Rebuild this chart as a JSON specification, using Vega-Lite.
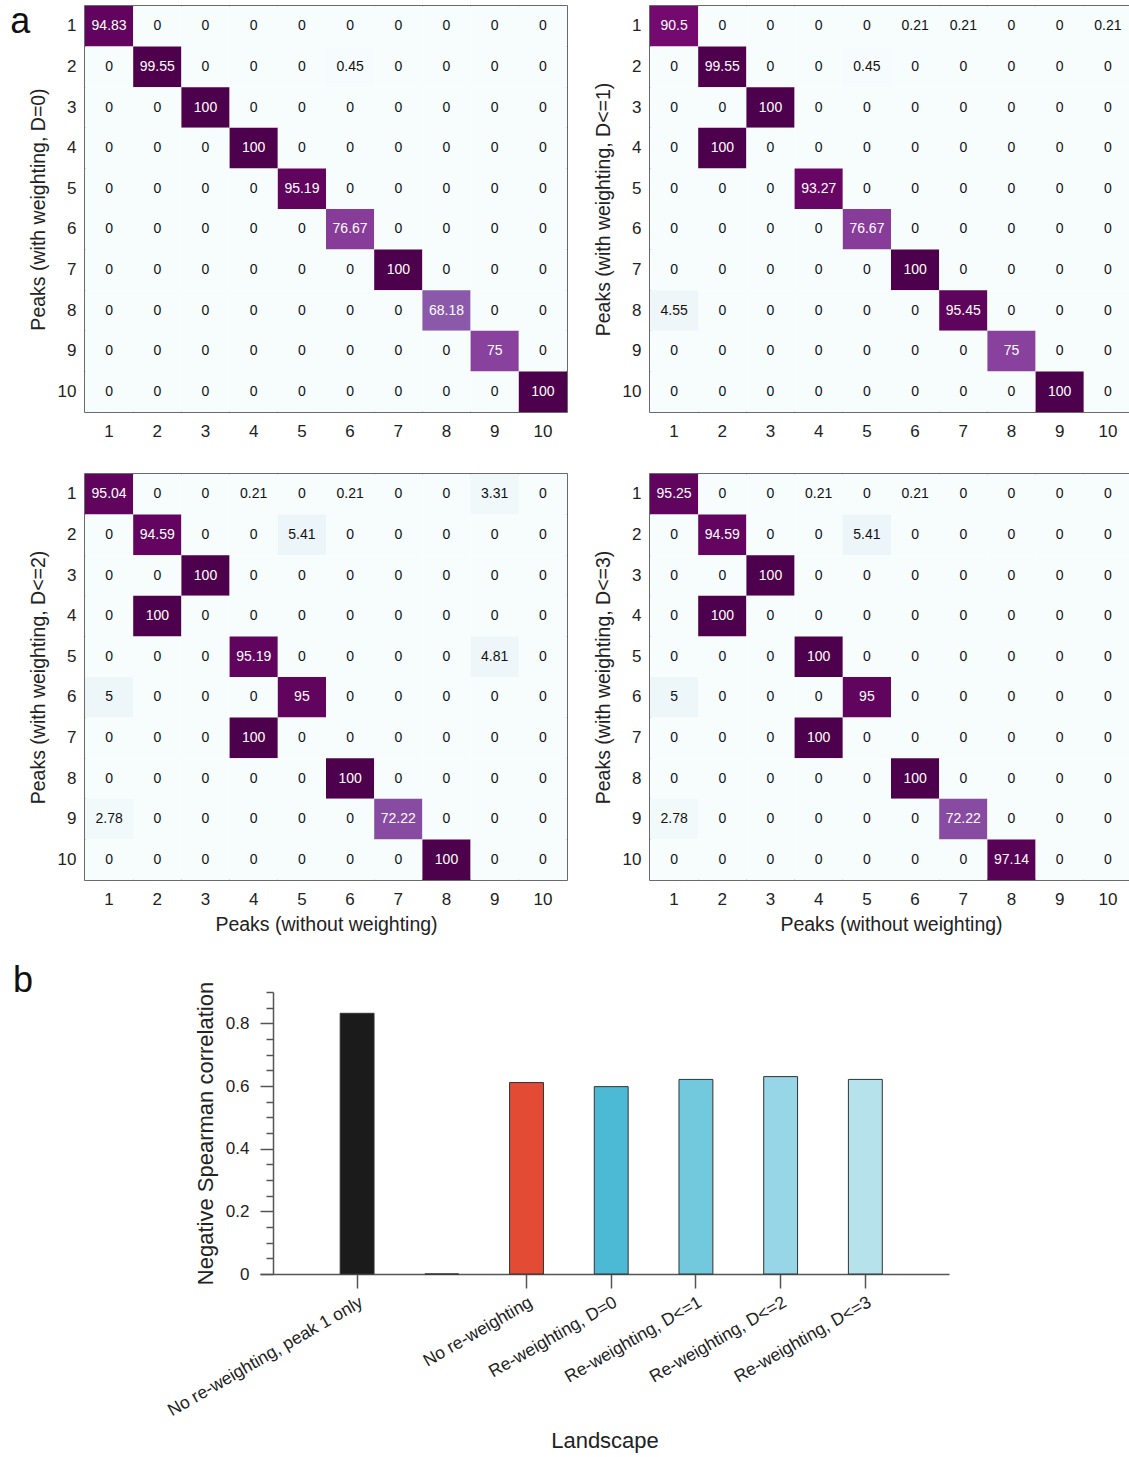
{
  "$schema": "https://vega.github.io/schema/vega-lite/v6.json",
  "padding": {"left": 10, "top": 4, "right": 0, "bottom": 5},
  "background": "white",
  "config": {
    "font": "Liberation Sans",
    "view": {"stroke": "#3a3a3a", "strokeWidth": 1.5},
    "axis": {"labelColor": "#222", "titleColor": "#222", "titleFontWeight": "normal", "labelFontSize": 17, "titleFontSize": 19.5, "grid": false}
  },
  "resolve": {"scale": {"color": "independent"}},
  "datasets": {
    "d0": [
      {"r":1,"c":1,"v":94.83},{"r":1,"c":2,"v":0},{"r":1,"c":3,"v":0},{"r":1,"c":4,"v":0},{"r":1,"c":5,"v":0},{"r":1,"c":6,"v":0},{"r":1,"c":7,"v":0},{"r":1,"c":8,"v":0},{"r":1,"c":9,"v":0},{"r":1,"c":10,"v":0},
      {"r":2,"c":1,"v":0},{"r":2,"c":2,"v":99.55},{"r":2,"c":3,"v":0},{"r":2,"c":4,"v":0},{"r":2,"c":5,"v":0},{"r":2,"c":6,"v":0.45},{"r":2,"c":7,"v":0},{"r":2,"c":8,"v":0},{"r":2,"c":9,"v":0},{"r":2,"c":10,"v":0},
      {"r":3,"c":1,"v":0},{"r":3,"c":2,"v":0},{"r":3,"c":3,"v":100},{"r":3,"c":4,"v":0},{"r":3,"c":5,"v":0},{"r":3,"c":6,"v":0},{"r":3,"c":7,"v":0},{"r":3,"c":8,"v":0},{"r":3,"c":9,"v":0},{"r":3,"c":10,"v":0},
      {"r":4,"c":1,"v":0},{"r":4,"c":2,"v":0},{"r":4,"c":3,"v":0},{"r":4,"c":4,"v":100},{"r":4,"c":5,"v":0},{"r":4,"c":6,"v":0},{"r":4,"c":7,"v":0},{"r":4,"c":8,"v":0},{"r":4,"c":9,"v":0},{"r":4,"c":10,"v":0},
      {"r":5,"c":1,"v":0},{"r":5,"c":2,"v":0},{"r":5,"c":3,"v":0},{"r":5,"c":4,"v":0},{"r":5,"c":5,"v":95.19},{"r":5,"c":6,"v":0},{"r":5,"c":7,"v":0},{"r":5,"c":8,"v":0},{"r":5,"c":9,"v":0},{"r":5,"c":10,"v":0},
      {"r":6,"c":1,"v":0},{"r":6,"c":2,"v":0},{"r":6,"c":3,"v":0},{"r":6,"c":4,"v":0},{"r":6,"c":5,"v":0},{"r":6,"c":6,"v":76.67},{"r":6,"c":7,"v":0},{"r":6,"c":8,"v":0},{"r":6,"c":9,"v":0},{"r":6,"c":10,"v":0},
      {"r":7,"c":1,"v":0},{"r":7,"c":2,"v":0},{"r":7,"c":3,"v":0},{"r":7,"c":4,"v":0},{"r":7,"c":5,"v":0},{"r":7,"c":6,"v":0},{"r":7,"c":7,"v":100},{"r":7,"c":8,"v":0},{"r":7,"c":9,"v":0},{"r":7,"c":10,"v":0},
      {"r":8,"c":1,"v":0},{"r":8,"c":2,"v":0},{"r":8,"c":3,"v":0},{"r":8,"c":4,"v":0},{"r":8,"c":5,"v":0},{"r":8,"c":6,"v":0},{"r":8,"c":7,"v":0},{"r":8,"c":8,"v":68.18},{"r":8,"c":9,"v":0},{"r":8,"c":10,"v":0},
      {"r":9,"c":1,"v":0},{"r":9,"c":2,"v":0},{"r":9,"c":3,"v":0},{"r":9,"c":4,"v":0},{"r":9,"c":5,"v":0},{"r":9,"c":6,"v":0},{"r":9,"c":7,"v":0},{"r":9,"c":8,"v":0},{"r":9,"c":9,"v":75},{"r":9,"c":10,"v":0},
      {"r":10,"c":1,"v":0},{"r":10,"c":2,"v":0},{"r":10,"c":3,"v":0},{"r":10,"c":4,"v":0},{"r":10,"c":5,"v":0},{"r":10,"c":6,"v":0},{"r":10,"c":7,"v":0},{"r":10,"c":8,"v":0},{"r":10,"c":9,"v":0},{"r":10,"c":10,"v":100}
    ],
    "d1": [
      {"r":1,"c":1,"v":90.5},{"r":1,"c":2,"v":0},{"r":1,"c":3,"v":0},{"r":1,"c":4,"v":0},{"r":1,"c":5,"v":0},{"r":1,"c":6,"v":0.21},{"r":1,"c":7,"v":0.21},{"r":1,"c":8,"v":0},{"r":1,"c":9,"v":0},{"r":1,"c":10,"v":0.21},
      {"r":2,"c":1,"v":0},{"r":2,"c":2,"v":99.55},{"r":2,"c":3,"v":0},{"r":2,"c":4,"v":0},{"r":2,"c":5,"v":0.45},{"r":2,"c":6,"v":0},{"r":2,"c":7,"v":0},{"r":2,"c":8,"v":0},{"r":2,"c":9,"v":0},{"r":2,"c":10,"v":0},
      {"r":3,"c":1,"v":0},{"r":3,"c":2,"v":0},{"r":3,"c":3,"v":100},{"r":3,"c":4,"v":0},{"r":3,"c":5,"v":0},{"r":3,"c":6,"v":0},{"r":3,"c":7,"v":0},{"r":3,"c":8,"v":0},{"r":3,"c":9,"v":0},{"r":3,"c":10,"v":0},
      {"r":4,"c":1,"v":0},{"r":4,"c":2,"v":100},{"r":4,"c":3,"v":0},{"r":4,"c":4,"v":0},{"r":4,"c":5,"v":0},{"r":4,"c":6,"v":0},{"r":4,"c":7,"v":0},{"r":4,"c":8,"v":0},{"r":4,"c":9,"v":0},{"r":4,"c":10,"v":0},
      {"r":5,"c":1,"v":0},{"r":5,"c":2,"v":0},{"r":5,"c":3,"v":0},{"r":5,"c":4,"v":93.27},{"r":5,"c":5,"v":0},{"r":5,"c":6,"v":0},{"r":5,"c":7,"v":0},{"r":5,"c":8,"v":0},{"r":5,"c":9,"v":0},{"r":5,"c":10,"v":0},
      {"r":6,"c":1,"v":0},{"r":6,"c":2,"v":0},{"r":6,"c":3,"v":0},{"r":6,"c":4,"v":0},{"r":6,"c":5,"v":76.67},{"r":6,"c":6,"v":0},{"r":6,"c":7,"v":0},{"r":6,"c":8,"v":0},{"r":6,"c":9,"v":0},{"r":6,"c":10,"v":0},
      {"r":7,"c":1,"v":0},{"r":7,"c":2,"v":0},{"r":7,"c":3,"v":0},{"r":7,"c":4,"v":0},{"r":7,"c":5,"v":0},{"r":7,"c":6,"v":100},{"r":7,"c":7,"v":0},{"r":7,"c":8,"v":0},{"r":7,"c":9,"v":0},{"r":7,"c":10,"v":0},
      {"r":8,"c":1,"v":4.55},{"r":8,"c":2,"v":0},{"r":8,"c":3,"v":0},{"r":8,"c":4,"v":0},{"r":8,"c":5,"v":0},{"r":8,"c":6,"v":0},{"r":8,"c":7,"v":95.45},{"r":8,"c":8,"v":0},{"r":8,"c":9,"v":0},{"r":8,"c":10,"v":0},
      {"r":9,"c":1,"v":0},{"r":9,"c":2,"v":0},{"r":9,"c":3,"v":0},{"r":9,"c":4,"v":0},{"r":9,"c":5,"v":0},{"r":9,"c":6,"v":0},{"r":9,"c":7,"v":0},{"r":9,"c":8,"v":75},{"r":9,"c":9,"v":0},{"r":9,"c":10,"v":0},
      {"r":10,"c":1,"v":0},{"r":10,"c":2,"v":0},{"r":10,"c":3,"v":0},{"r":10,"c":4,"v":0},{"r":10,"c":5,"v":0},{"r":10,"c":6,"v":0},{"r":10,"c":7,"v":0},{"r":10,"c":8,"v":0},{"r":10,"c":9,"v":100},{"r":10,"c":10,"v":0}
    ],
    "d2": [
      {"r":1,"c":1,"v":95.04},{"r":1,"c":2,"v":0},{"r":1,"c":3,"v":0},{"r":1,"c":4,"v":0.21},{"r":1,"c":5,"v":0},{"r":1,"c":6,"v":0.21},{"r":1,"c":7,"v":0},{"r":1,"c":8,"v":0},{"r":1,"c":9,"v":3.31},{"r":1,"c":10,"v":0},
      {"r":2,"c":1,"v":0},{"r":2,"c":2,"v":94.59},{"r":2,"c":3,"v":0},{"r":2,"c":4,"v":0},{"r":2,"c":5,"v":5.41},{"r":2,"c":6,"v":0},{"r":2,"c":7,"v":0},{"r":2,"c":8,"v":0},{"r":2,"c":9,"v":0},{"r":2,"c":10,"v":0},
      {"r":3,"c":1,"v":0},{"r":3,"c":2,"v":0},{"r":3,"c":3,"v":100},{"r":3,"c":4,"v":0},{"r":3,"c":5,"v":0},{"r":3,"c":6,"v":0},{"r":3,"c":7,"v":0},{"r":3,"c":8,"v":0},{"r":3,"c":9,"v":0},{"r":3,"c":10,"v":0},
      {"r":4,"c":1,"v":0},{"r":4,"c":2,"v":100},{"r":4,"c":3,"v":0},{"r":4,"c":4,"v":0},{"r":4,"c":5,"v":0},{"r":4,"c":6,"v":0},{"r":4,"c":7,"v":0},{"r":4,"c":8,"v":0},{"r":4,"c":9,"v":0},{"r":4,"c":10,"v":0},
      {"r":5,"c":1,"v":0},{"r":5,"c":2,"v":0},{"r":5,"c":3,"v":0},{"r":5,"c":4,"v":95.19},{"r":5,"c":5,"v":0},{"r":5,"c":6,"v":0},{"r":5,"c":7,"v":0},{"r":5,"c":8,"v":0},{"r":5,"c":9,"v":4.81},{"r":5,"c":10,"v":0},
      {"r":6,"c":1,"v":5},{"r":6,"c":2,"v":0},{"r":6,"c":3,"v":0},{"r":6,"c":4,"v":0},{"r":6,"c":5,"v":95},{"r":6,"c":6,"v":0},{"r":6,"c":7,"v":0},{"r":6,"c":8,"v":0},{"r":6,"c":9,"v":0},{"r":6,"c":10,"v":0},
      {"r":7,"c":1,"v":0},{"r":7,"c":2,"v":0},{"r":7,"c":3,"v":0},{"r":7,"c":4,"v":100},{"r":7,"c":5,"v":0},{"r":7,"c":6,"v":0},{"r":7,"c":7,"v":0},{"r":7,"c":8,"v":0},{"r":7,"c":9,"v":0},{"r":7,"c":10,"v":0},
      {"r":8,"c":1,"v":0},{"r":8,"c":2,"v":0},{"r":8,"c":3,"v":0},{"r":8,"c":4,"v":0},{"r":8,"c":5,"v":0},{"r":8,"c":6,"v":100},{"r":8,"c":7,"v":0},{"r":8,"c":8,"v":0},{"r":8,"c":9,"v":0},{"r":8,"c":10,"v":0},
      {"r":9,"c":1,"v":2.78},{"r":9,"c":2,"v":0},{"r":9,"c":3,"v":0},{"r":9,"c":4,"v":0},{"r":9,"c":5,"v":0},{"r":9,"c":6,"v":0},{"r":9,"c":7,"v":72.22},{"r":9,"c":8,"v":0},{"r":9,"c":9,"v":0},{"r":9,"c":10,"v":0},
      {"r":10,"c":1,"v":0},{"r":10,"c":2,"v":0},{"r":10,"c":3,"v":0},{"r":10,"c":4,"v":0},{"r":10,"c":5,"v":0},{"r":10,"c":6,"v":0},{"r":10,"c":7,"v":0},{"r":10,"c":8,"v":100},{"r":10,"c":9,"v":0},{"r":10,"c":10,"v":0}
    ],
    "d3": [
      {"r":1,"c":1,"v":95.25},{"r":1,"c":2,"v":0},{"r":1,"c":3,"v":0},{"r":1,"c":4,"v":0.21},{"r":1,"c":5,"v":0},{"r":1,"c":6,"v":0.21},{"r":1,"c":7,"v":0},{"r":1,"c":8,"v":0},{"r":1,"c":9,"v":0},{"r":1,"c":10,"v":0},
      {"r":2,"c":1,"v":0},{"r":2,"c":2,"v":94.59},{"r":2,"c":3,"v":0},{"r":2,"c":4,"v":0},{"r":2,"c":5,"v":5.41},{"r":2,"c":6,"v":0},{"r":2,"c":7,"v":0},{"r":2,"c":8,"v":0},{"r":2,"c":9,"v":0},{"r":2,"c":10,"v":0},
      {"r":3,"c":1,"v":0},{"r":3,"c":2,"v":0},{"r":3,"c":3,"v":100},{"r":3,"c":4,"v":0},{"r":3,"c":5,"v":0},{"r":3,"c":6,"v":0},{"r":3,"c":7,"v":0},{"r":3,"c":8,"v":0},{"r":3,"c":9,"v":0},{"r":3,"c":10,"v":0},
      {"r":4,"c":1,"v":0},{"r":4,"c":2,"v":100},{"r":4,"c":3,"v":0},{"r":4,"c":4,"v":0},{"r":4,"c":5,"v":0},{"r":4,"c":6,"v":0},{"r":4,"c":7,"v":0},{"r":4,"c":8,"v":0},{"r":4,"c":9,"v":0},{"r":4,"c":10,"v":0},
      {"r":5,"c":1,"v":0},{"r":5,"c":2,"v":0},{"r":5,"c":3,"v":0},{"r":5,"c":4,"v":100},{"r":5,"c":5,"v":0},{"r":5,"c":6,"v":0},{"r":5,"c":7,"v":0},{"r":5,"c":8,"v":0},{"r":5,"c":9,"v":0},{"r":5,"c":10,"v":0},
      {"r":6,"c":1,"v":5},{"r":6,"c":2,"v":0},{"r":6,"c":3,"v":0},{"r":6,"c":4,"v":0},{"r":6,"c":5,"v":95},{"r":6,"c":6,"v":0},{"r":6,"c":7,"v":0},{"r":6,"c":8,"v":0},{"r":6,"c":9,"v":0},{"r":6,"c":10,"v":0},
      {"r":7,"c":1,"v":0},{"r":7,"c":2,"v":0},{"r":7,"c":3,"v":0},{"r":7,"c":4,"v":100},{"r":7,"c":5,"v":0},{"r":7,"c":6,"v":0},{"r":7,"c":7,"v":0},{"r":7,"c":8,"v":0},{"r":7,"c":9,"v":0},{"r":7,"c":10,"v":0},
      {"r":8,"c":1,"v":0},{"r":8,"c":2,"v":0},{"r":8,"c":3,"v":0},{"r":8,"c":4,"v":0},{"r":8,"c":5,"v":0},{"r":8,"c":6,"v":100},{"r":8,"c":7,"v":0},{"r":8,"c":8,"v":0},{"r":8,"c":9,"v":0},{"r":8,"c":10,"v":0},
      {"r":9,"c":1,"v":2.78},{"r":9,"c":2,"v":0},{"r":9,"c":3,"v":0},{"r":9,"c":4,"v":0},{"r":9,"c":5,"v":0},{"r":9,"c":6,"v":0},{"r":9,"c":7,"v":72.22},{"r":9,"c":8,"v":0},{"r":9,"c":9,"v":0},{"r":9,"c":10,"v":0},
      {"r":10,"c":1,"v":0},{"r":10,"c":2,"v":0},{"r":10,"c":3,"v":0},{"r":10,"c":4,"v":0},{"r":10,"c":5,"v":0},{"r":10,"c":6,"v":0},{"r":10,"c":7,"v":0},{"r":10,"c":8,"v":97.14},{"r":10,"c":9,"v":0},{"r":10,"c":10,"v":0}
    ],
    "bars": [
      {"landscape": "No re-weighting, peak 1 only", "rho": 0.832},
      {"landscape": " ", "rho": 0},
      {"landscape": "No re-weighting", "rho": 0.611},
      {"landscape": "Re-weighting, D=0", "rho": 0.598},
      {"landscape": "Re-weighting, D<=1", "rho": 0.621},
      {"landscape": "Re-weighting, D<=2", "rho": 0.630},
      {"landscape": "Re-weighting, D<=3", "rho": 0.621}
    ]
  },
  "vconcat": [
    {
      "title": {"text": "a", "anchor": "start", "frame": "bounds", "fontSize": 36, "fontWeight": "normal", "color": "#111", "dy": 36, "dx": -17, "offset": 0},
      "vconcat": [
        {
          "hconcat": [
            {
              "width": 482, "height": 406,
              "data": {"name": "d0"},
              "encoding": {
                "x": {"field": "c", "type": "ordinal", "scale": {"paddingInner": 0, "paddingOuter": 0}, "axis": {"title": null, "ticks": false, "domain": false, "labelAngle": 0, "labelPadding": 11}},
                "y": {"field": "r", "type": "ordinal", "scale": {"paddingInner": 0, "paddingOuter": 0}, "axis": {"title": "Peaks (with weighting, D=0)", "ticks": false, "domain": false, "labelPadding": 9, "titlePadding": 9}}
              },
              "layer": [
                {"mark": {"type": "rect"}, "encoding": {"color": {"field": "v", "type": "quantitative", "legend": null, "scale": {"domain": [0, 12.5, 25, 37.5, 50, 62.5, 75, 87.5, 100], "range": ["#f7fcfd", "#e0ecf4", "#bfd3e6", "#9ebcda", "#8c96c6", "#8c6bb1", "#88419d", "#810f7c", "#4d004b"]}}}},
                {"mark": {"type": "text", "fontSize": 14}, "encoding": {"text": {"field": "v", "type": "nominal"}, "color": {"condition": {"test": "datum.v > 50", "value": "white"}, "value": "#111"}}}
              ]
            },
            {
              "width": 482, "height": 406,
              "data": {"name": "d1"},
              "encoding": {
                "x": {"field": "c", "type": "ordinal", "scale": {"paddingInner": 0, "paddingOuter": 0}, "axis": {"title": null, "ticks": false, "domain": false, "labelAngle": 0, "labelPadding": 11}},
                "y": {"field": "r", "type": "ordinal", "scale": {"paddingInner": 0, "paddingOuter": 0}, "axis": {"title": "Peaks (with weighting, D<=1)", "ticks": false, "domain": false, "labelPadding": 9, "titlePadding": 9}}
              },
              "layer": [
                {"mark": {"type": "rect"}, "encoding": {"color": {"field": "v", "type": "quantitative", "legend": null, "scale": {"domain": [0, 12.5, 25, 37.5, 50, 62.5, 75, 87.5, 100], "range": ["#f7fcfd", "#e0ecf4", "#bfd3e6", "#9ebcda", "#8c96c6", "#8c6bb1", "#88419d", "#810f7c", "#4d004b"]}}}},
                {"mark": {"type": "text", "fontSize": 14}, "encoding": {"text": {"field": "v", "type": "nominal"}, "color": {"condition": {"test": "datum.v > 50", "value": "white"}, "value": "#111"}}}
              ]
            }
          ],
          "spacing": 24
        },
        {
          "hconcat": [
            {
              "width": 482, "height": 406,
              "data": {"name": "d2"},
              "encoding": {
                "x": {"field": "c", "type": "ordinal", "scale": {"paddingInner": 0, "paddingOuter": 0}, "axis": {"title": "Peaks (without weighting)", "ticks": false, "domain": false, "labelAngle": 0, "labelPadding": 11, "titlePadding": 8}},
                "y": {"field": "r", "type": "ordinal", "scale": {"paddingInner": 0, "paddingOuter": 0}, "axis": {"title": "Peaks (with weighting, D<=2)", "ticks": false, "domain": false, "labelPadding": 9, "titlePadding": 9}}
              },
              "layer": [
                {"mark": {"type": "rect"}, "encoding": {"color": {"field": "v", "type": "quantitative", "legend": null, "scale": {"domain": [0, 12.5, 25, 37.5, 50, 62.5, 75, 87.5, 100], "range": ["#f7fcfd", "#e0ecf4", "#bfd3e6", "#9ebcda", "#8c96c6", "#8c6bb1", "#88419d", "#810f7c", "#4d004b"]}}}},
                {"mark": {"type": "text", "fontSize": 14}, "encoding": {"text": {"field": "v", "type": "nominal"}, "color": {"condition": {"test": "datum.v > 50", "value": "white"}, "value": "#111"}}}
              ]
            },
            {
              "width": 482, "height": 406,
              "data": {"name": "d3"},
              "encoding": {
                "x": {"field": "c", "type": "ordinal", "scale": {"paddingInner": 0, "paddingOuter": 0}, "axis": {"title": "Peaks (without weighting)", "ticks": false, "domain": false, "labelAngle": 0, "labelPadding": 11, "titlePadding": 8}},
                "y": {"field": "r", "type": "ordinal", "scale": {"paddingInner": 0, "paddingOuter": 0}, "axis": {"title": "Peaks (with weighting, D<=3)", "ticks": false, "domain": false, "labelPadding": 9, "titlePadding": 9}}
              },
              "layer": [
                {"mark": {"type": "rect"}, "encoding": {"color": {"field": "v", "type": "quantitative", "legend": null, "scale": {"domain": [0, 12.5, 25, 37.5, 50, 62.5, 75, 87.5, 100], "range": ["#f7fcfd", "#e0ecf4", "#bfd3e6", "#9ebcda", "#8c96c6", "#8c6bb1", "#88419d", "#810f7c", "#4d004b"]}}}},
                {"mark": {"type": "text", "fontSize": 14}, "encoding": {"text": {"field": "v", "type": "nominal"}, "color": {"condition": {"test": "datum.v > 50", "value": "white"}, "value": "#111"}}}
              ]
            }
          ],
          "spacing": 24
        }
      ],
      "spacing": 33
    },
    {
      "hconcat": [
        {
          "width": 69, "height": 282,
          "view": {"stroke": null},
          "title": {"text": "b", "anchor": "start", "frame": "group", "fontSize": 36, "fontWeight": "normal", "color": "#111", "dx": -72, "dy": 8, "offset": 0},
          "data": {"values": [{}]},
          "mark": {"type": "text", "text": ""},
          "encoding": {}
        },
        {
          "width": 689, "height": 282,
          "view": {"stroke": null},
          "data": {"name": "bars"},
          "encoding": {
            "x": {
              "field": "landscape", "type": "nominal",
              "scale": {"domain": ["No re-weighting, peak 1 only", " ", "No re-weighting", "Re-weighting, D=0", "Re-weighting, D<=1", "Re-weighting, D<=2", "Re-weighting, D<=3"], "paddingInner": 0, "paddingOuter": 0.567, "align": 0.57},
              "axis": {
                "title": "Landscape", "titleFontSize": 22, "titlePadding": 11,
                "values": ["No re-weighting, peak 1 only", "No re-weighting", "Re-weighting, D=0", "Re-weighting, D<=1", "Re-weighting, D<=2", "Re-weighting, D<=3"],
                "labelAngle": -30, "labelFontSize": 17.5, "labelPadding": 5, "labelLimit": 400, "tickSize": 14, "tickColor": "#555", "domainColor": "#555", "domainWidth": 1.5, "tickWidth": 1.5
              }
            }
          },
          "layer": [
            {
              "mark": {"type": "bar", "width": {"band": 0.4}, "stroke": "#333", "strokeWidth": 1},
              "encoding": {
                "y": {
                  "field": "rho", "type": "quantitative",
                  "scale": {"domain": [0, 0.9], "nice": false},
                  "axis": {"title": "Negative Spearman correlation", "titleFontSize": 22, "titlePadding": 8, "orient": "left", "offset": -13, "values": [0, 0.2, 0.4, 0.6, 0.8], "tickSize": 13, "labelPadding": 11, "labelFontSize": 17, "tickColor": "#555", "domainColor": "#555", "domainWidth": 1.5, "tickWidth": 1.5, "labelExpr": "toString(datum.value)"}
                },
                "color": {
                  "field": "landscape", "type": "nominal", "legend": null,
                  "scale": {"domain": ["No re-weighting, peak 1 only", " ", "No re-weighting", "Re-weighting, D=0", "Re-weighting, D<=1", "Re-weighting, D<=2", "Re-weighting, D<=3"], "range": ["#1b1b1b", "#888888", "#e44b35", "#4dbad5", "#72c9dd", "#96d6e6", "#b6e2ec"]}
                }
              }
            },
            {
              "mark": {"type": "tick", "opacity": 0},
              "encoding": {
                "y": {
                  "field": "rho", "type": "quantitative",
                  "axis": {"title": null, "orient": "left", "offset": -13, "values": [0.05, 0.1, 0.15, 0.25, 0.3, 0.35, 0.45, 0.5, 0.55, 0.65, 0.7, 0.75, 0.85, 0.9], "tickSize": 7, "labels": false, "domain": false, "tickColor": "#555", "tickWidth": 1.5}
                }
              }
            }
          ],
          "resolve": {"axis": {"y": "independent"}}
        }
      ],
      "spacing": 10
    }
  ],
  "spacing": 28
}
